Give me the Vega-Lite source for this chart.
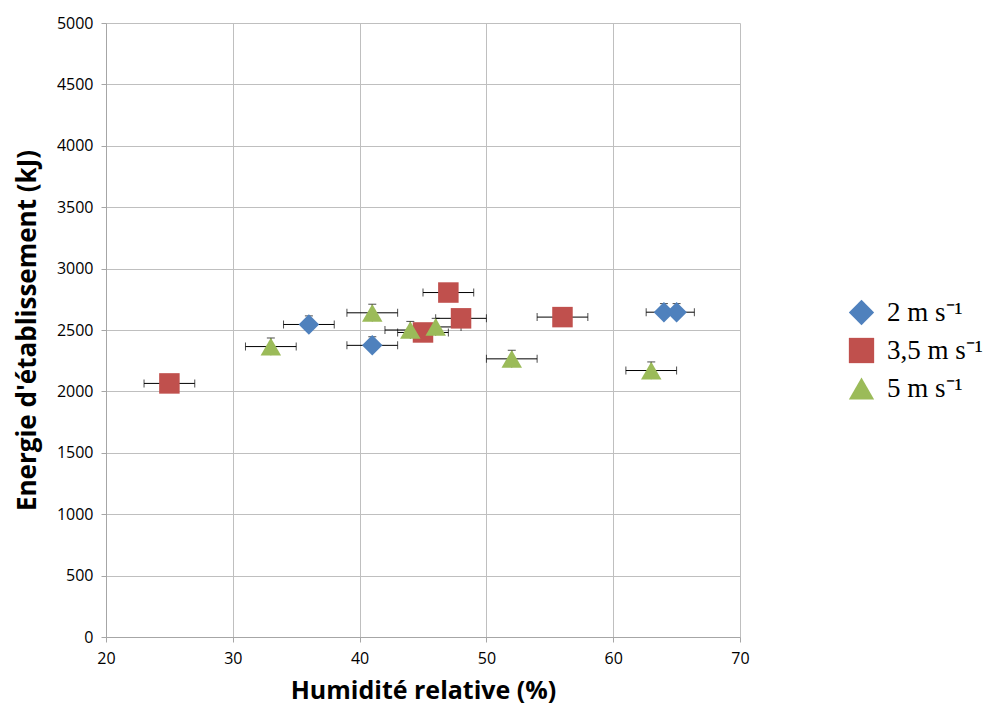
{
  "$schema": "https://vega.github.io/schema/vega-lite/v6.json",
  "autosize": "none",
  "width": 634,
  "height": 614,
  "padding": {"left": 106, "top": 23, "right": 255, "bottom": 72},
  "background": "white",
  "config": {
    "view": {"stroke": null},
    "font": "Open Sans",
    "axis": {
      "gridColor": "#bfbfbf",
      "gridWidth": 1,
      "domainColor": "#a6a6a6",
      "tickColor": "#a6a6a6",
      "tickSize": 5,
      "labelFlush": false,
      "labelFont": "Open Sans",
      "labelFontSize": 16,
      "labelColor": "#000000",
      "titleFont": "Open Sans",
      "titleFontWeight": "bold",
      "titleColor": "#000000"
    }
  },
  "data": {
    "values": [
      {"s": "2 m s⁻¹", "x": 36, "y": 2545, "xlo": 34, "xhi": 38, "ylo": 2475, "yhi": 2615},
      {"s": "2 m s⁻¹", "x": 41, "y": 2375, "xlo": 39, "xhi": 43, "ylo": 2305, "yhi": 2445},
      {"s": "2 m s⁻¹", "x": 64, "y": 2645, "xlo": 62.6, "xhi": 65.4, "ylo": 2575, "yhi": 2715},
      {"s": "2 m s⁻¹", "x": 65, "y": 2645, "xlo": 63.6, "xhi": 66.4, "ylo": 2575, "yhi": 2715},
      {"s": "3,5 m s⁻¹", "x": 25, "y": 2065, "xlo": 23, "xhi": 27, "ylo": 1995, "yhi": 2135},
      {"s": "3,5 m s⁻¹", "x": 47, "y": 2805, "xlo": 45, "xhi": 49, "ylo": 2735, "yhi": 2875},
      {"s": "3,5 m s⁻¹", "x": 48, "y": 2595, "xlo": 46, "xhi": 50, "ylo": 2525, "yhi": 2665},
      {"s": "3,5 m s⁻¹", "x": 45, "y": 2480, "xlo": 43, "xhi": 47, "ylo": 2410, "yhi": 2550},
      {"s": "3,5 m s⁻¹", "x": 56, "y": 2605, "xlo": 54, "xhi": 58, "ylo": 2535, "yhi": 2675},
      {"s": "5 m s⁻¹", "x": 33, "y": 2365, "xlo": 31, "xhi": 35, "ylo": 2295, "yhi": 2435},
      {"s": "5 m s⁻¹", "x": 41, "y": 2640, "xlo": 39, "xhi": 43, "ylo": 2570, "yhi": 2710},
      {"s": "5 m s⁻¹", "x": 44, "y": 2500, "xlo": 42, "xhi": 46, "ylo": 2430, "yhi": 2570},
      {"s": "5 m s⁻¹", "x": 46, "y": 2525, "xlo": 44, "xhi": 48, "ylo": 2455, "yhi": 2595},
      {"s": "5 m s⁻¹", "x": 52, "y": 2265, "xlo": 50, "xhi": 54, "ylo": 2195, "yhi": 2335},
      {"s": "5 m s⁻¹", "x": 63, "y": 2170, "xlo": 61, "xhi": 65, "ylo": 2100, "yhi": 2240}
    ]
  },
  "encoding": {
    "x": {
      "field": "x", "type": "quantitative",
      "scale": {"domain": [20, 70], "nice": false, "zero": false},
      "axis": {"values": [20, 30, 40, 50, 60, 70], "format": "d", "title": "Humidité relative (%)", "titleFontSize": 25, "titlePadding": 12, "labelPadding": 8}
    },
    "y": {
      "field": "y", "type": "quantitative",
      "scale": {"domain": [0, 5000], "nice": false},
      "axis": {"values": [0, 500, 1000, 1500, 2000, 2500, 3000, 3500, 4000, 4500, 5000], "format": "d", "title": "Energie d'établissement (kJ)", "titleFontSize": 26, "titlePadding": 16, "labelPadding": 8}
    }
  },
  "layer": [
    {
      "mark": {"type": "rule", "color": "#000000", "strokeWidth": 1},
      "encoding": {"x": {"field": "xlo", "type": "quantitative"}, "x2": {"field": "xhi"}}
    },
    {
      "mark": {"type": "tick", "color": "#000000", "orient": "vertical", "size": 8, "thickness": 1},
      "encoding": {"x": {"field": "xlo", "type": "quantitative"}}
    },
    {
      "mark": {"type": "tick", "color": "#000000", "orient": "vertical", "size": 8, "thickness": 1},
      "encoding": {"x": {"field": "xhi", "type": "quantitative"}}
    },
    {
      "mark": {"type": "rule", "color": "#000000", "strokeWidth": 1},
      "encoding": {"y": {"field": "ylo", "type": "quantitative"}, "y2": {"field": "yhi"}}
    },
    {
      "mark": {"type": "tick", "color": "#000000", "orient": "horizontal", "size": 8, "thickness": 1},
      "encoding": {"y": {"field": "yhi", "type": "quantitative"}}
    },
    {
      "mark": {"type": "point", "filled": true, "opacity": 1, "size": 420},
      "encoding": {
        "color": {
          "field": "s", "type": "nominal",
          "scale": {"domain": ["2 m s⁻¹", "3,5 m s⁻¹", "5 m s⁻¹"], "range": ["#4F81BD", "#C0504D", "#9BBB59"]},
          "legend": {
            "title": null,
            "orient": "none",
            "legendX": 742,
            "legendY": 276,
            "symbolSize": 640,
            "symbolOpacity": 1,
            "labelFont": "Liberation Serif",
            "labelFontSize": 27,
            "labelColor": "#000000",
            "labelOffset": 12,
            "rowPadding": 10,
            "symbolStrokeWidth": 0
          }
        },
        "shape": {
          "field": "s", "type": "nominal",
          "scale": {"domain": ["2 m s⁻¹", "3,5 m s⁻¹", "5 m s⁻¹"], "range": ["diamond", "square", "triangle-up"]}
        }
      }
    }
  ]
}
